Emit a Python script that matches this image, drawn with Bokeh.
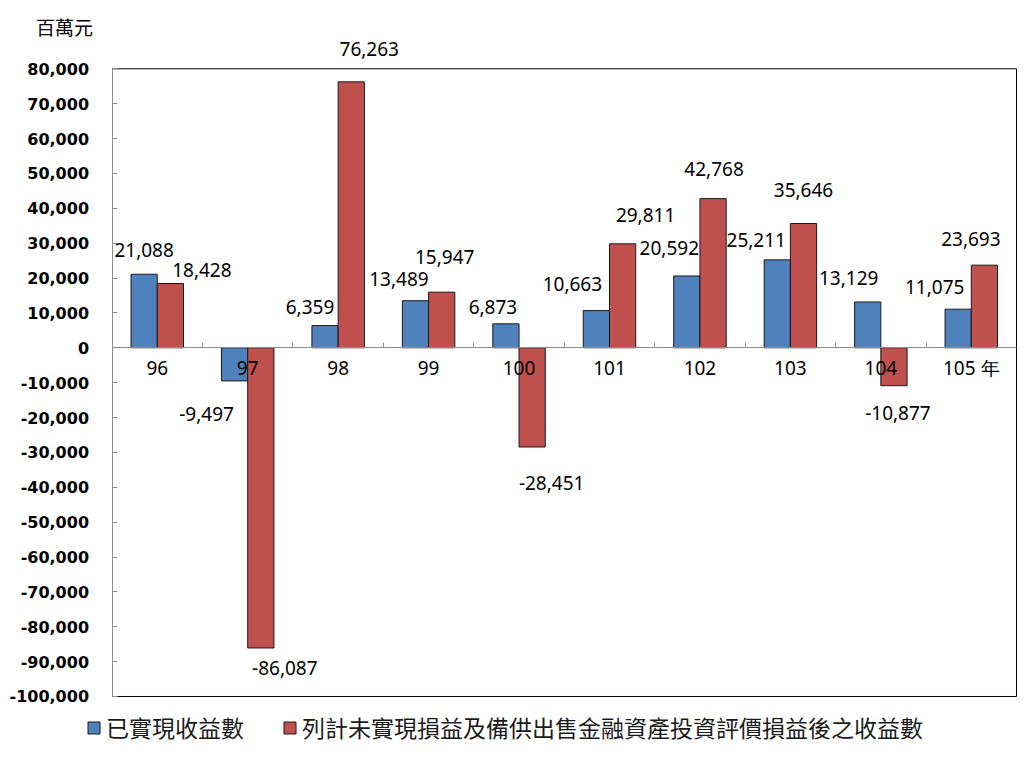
from bokeh.plotting import figure
from bokeh.models import (ColumnDataSource, Range1d, FixedTicker, NumeralTickFormatter,
                          LabelSet, Label, Legend, LegendItem)
from bokeh.core.properties import value
from bokeh.embed import file_html
from bokeh.resources import INLINE

# ---------------- data ----------------
years = ["96", "97", "98", "99", "100", "101", "102", "103", "104", "105"]
realized = [21088, -9497, 6359, 13489, 6873, 10663, 20592, 25211, 13129, 11075]
total = [18428, -86087, 76263, 15947, -28451, 29811, 42768, 35646, -10877, 23693]
series_names = ["已實現收益數", "列計未實現損益及備供出售金融資產投資評價損益後之收益數"]
unit_label = "百萬元"
year_suffix = " 年"
y_ticks = list(range(-100000, 80001, 10000))

# ---------------- label placement (pixels, relative to bar centre / bar end) ----------------
realized_dx = [0, -28, -15, -16.5, -13, -24, -17.5, -21, -19, -23.5]
realized_dy = [-24, 33, -19, -22, -17, -27, -28, -20, -24, -22]
total_dx = [31.5, 24, 18, 3, 19.5, 23, 1, 0, 4, -13.5]
total_dy = [-14, 20, -33, -35, 36.5, -28.5, -30, -33, 27, -26]

BLUE = "#4F81BD"
RED = "#C0504D"
BAR_W = 0.29

n = len(years)
xc = [i + 0.5 for i in range(n)]
y_lo, y_hi = y_ticks[0], y_ticks[-1]

src_r = ColumnDataSource(dict(
    x=[c - BAR_W / 2 for c in xc], top=realized,
    lbl=[f"{v:,}" for v in realized], dx=realized_dx, dy=[-d for d in realized_dy]))
src_t = ColumnDataSource(dict(
    x=[c + BAR_W / 2 for c in xc], top=total,
    lbl=[f"{v:,}" for v in total], dx=total_dx, dy=[-d for d in total_dy]))

# frame spans the whole figure; axes are placed at fixed data locations
p = figure(width=1018, height=744, output_backend="svg", toolbar_location=None,
           x_range=Range1d(-1.233, 10.022), y_range=Range1d(-113765, 99586),
           min_border_left=0, min_border_right=0, min_border_top=0, min_border_bottom=0)
p.background_fill_color = "white"
p.border_fill_color = "white"
p.xgrid.visible = False
p.ygrid.visible = False
p.outline_line_color = None

# plot-area box (top, right, bottom edges)
p.segment(x0=[0, n, 0], y0=[y_hi, y_lo, y_lo], x1=[n, n, n], y1=[y_hi, y_hi, y_lo],
          line_color="black", line_width=1)

r1 = p.vbar(x="x", top="top", bottom=0, width=BAR_W, source=src_r,
            fill_color=BLUE, line_color="#1a1a1a", line_width=1)
r2 = p.vbar(x="x", top="top", bottom=0, width=BAR_W, source=src_t,
            fill_color=RED, line_color="#1a1a1a", line_width=1)

for s in (src_r, src_t):
    ls = LabelSet(x="x", y="top", text="lbl", source=s, x_offset="dx", y_offset="dy",
                  text_align="center", text_baseline="middle",
                  text_font=value("Noto Sans"), text_font_size=value("19px"),
                  text_color="black")
    p.add_layout(ls)

# x axis at zero
xa = p.xaxis[0]
xa.fixed_location = 0
xa.bounds = (0, n)
xa.ticker = FixedTicker(ticks=xc, minor_ticks=list(range(1, n)))
labels = list(years)
labels[-1] = labels[-1] + year_suffix
xa.major_label_overrides = {c: l for c, l in zip(xc, labels)}
xa.major_tick_in = 0
xa.major_tick_out = 0
xa.minor_tick_in = 5
xa.minor_tick_out = 0
xa.axis_line_color = "#8c8c8c"
xa.minor_tick_line_color = "#8c8c8c"
xa.major_label_text_font = "Noto Sans"
xa.major_label_text_font_size = "19px"
xa.major_label_text_color = "black"
xa.major_label_standoff = 7

# y axis at x = 0
ya = p.yaxis[0]
ya.fixed_location = 0
ya.bounds = (y_lo, y_hi)
ya.ticker = FixedTicker(ticks=y_ticks)
ya.formatter = NumeralTickFormatter(format="0,0")
ya.major_tick_in = 5
ya.major_tick_out = 0
ya.minor_tick_line_color = None
ya.axis_line_color = "#8c8c8c"
ya.major_tick_line_color = "#8c8c8c"
ya.major_label_text_font = "DejaVu Sans"
ya.major_label_text_font_style = "bold"
ya.major_label_text_font_size = "16px"
ya.major_label_text_color = "black"
ya.major_label_standoff = 23

p.add_layout(Label(x=-0.525, y=92130, text=unit_label, text_font="Noto Sans CJK TC",
                   text_font_size="19px", text_align="center", text_baseline="middle",
                   text_color="black"))

legend = Legend(items=[LegendItem(label=series_names[0], renderers=[r1]),
                       LegendItem(label=series_names[1], renderers=[r2])],
                location=(86, 0), orientation="horizontal",
                label_text_font="Noto Sans CJK TC", label_text_font_size="23px",
                label_text_color="#1a1a1a",
                glyph_width=15, glyph_height=15, spacing=38, label_standoff=5,
                padding=0, margin=0, border_line_color=None, background_fill_alpha=0)
p.add_layout(legend)

open("out.html", "w").write(file_html(p, INLINE))
